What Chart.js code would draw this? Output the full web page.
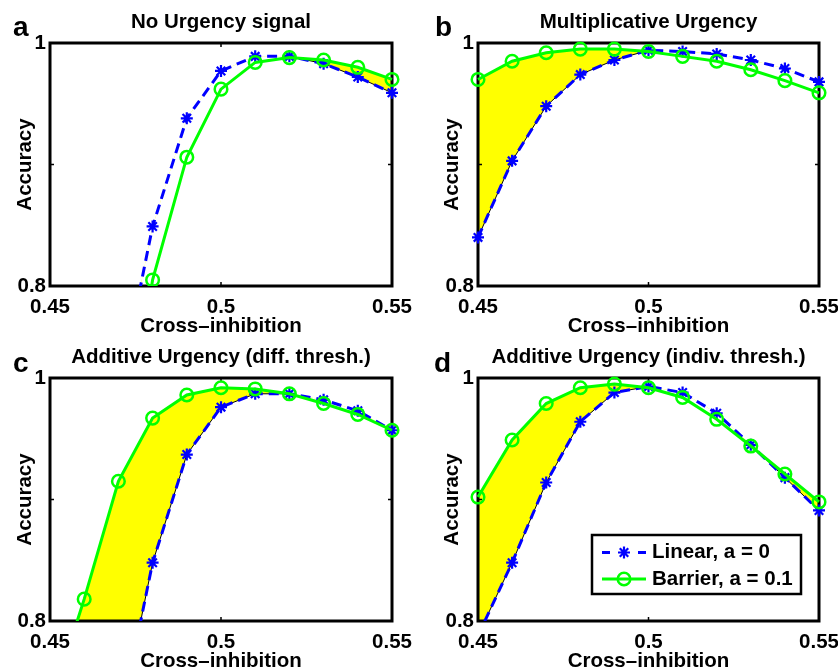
<!DOCTYPE html>
<html>
<head>
<meta charset="utf-8">
<script src="https://cdn.jsdelivr.net/npm/chart.js@4.4.1/dist/chart.umd.min.js"></script>
<style>
html,body{margin:0;padding:0;background:#fff;}
#wrap{position:relative;width:838px;height:670px;overflow:hidden;background:#fff;}
canvas{position:absolute;}
</style>
</head>
<body>
<div id="wrap">
<canvas id="c0" width="419" height="335" style="left:0;top:0"></canvas>
<canvas id="c1" width="419" height="335" style="left:419px;top:0"></canvas>
<canvas id="c2" width="419" height="335" style="left:0;top:335px"></canvas>
<canvas id="c3" width="419" height="335" style="left:419px;top:335px"></canvas>
</div>
<script>
// ---------------- DATA ----------------
const crossInhibition = [0.45, 0.46, 0.47, 0.48, 0.49, 0.50, 0.51, 0.52, 0.53, 0.54, 0.55];

const noUrgencyLinear   = [0.38, 0.55, 0.71, 0.849, 0.938, 0.977, 0.989, 0.989, 0.983, 0.972, 0.959];
const noUrgencyBarrier  = [0.30, 0.48, 0.63, 0.805, 0.906, 0.962, 0.984, 0.988, 0.986, 0.980, 0.970];

const multUrgencyLinear  = [0.840, 0.903, 0.948, 0.974, 0.986, 0.994, 0.993, 0.991, 0.986, 0.979, 0.968];
const multUrgencyBarrier = [0.970, 0.985, 0.992, 0.995, 0.995, 0.993, 0.989, 0.985, 0.978, 0.969, 0.959];

const addDiffLinear  = [0.38, 0.55, 0.71, 0.848, 0.937, 0.976, 0.987, 0.987, 0.982, 0.973, 0.957];
const addDiffBarrier = [0.73, 0.818, 0.915, 0.967, 0.986, 0.992, 0.991, 0.987, 0.979, 0.970, 0.957];

const addIndivLinear  = [0.788, 0.848, 0.914, 0.964, 0.988, 0.993, 0.988, 0.971, 0.945, 0.918, 0.891];
const addIndivBarrier = [0.902, 0.949, 0.979, 0.992, 0.995, 0.992, 0.984, 0.966, 0.944, 0.921, 0.898];

const panelTitles  = ['No Urgency signal', 'Multiplicative Urgency', 'Additive Urgency (diff. thresh.)', 'Additive Urgency (indiv. thresh.)'];
const panelLetters = ['a', 'b', 'c', 'd'];
const seriesNames  = ['Linear, a = 0', 'Barrier, a = 0.1'];

const xTickValues = [0.45, 0.5, 0.55];
const xTickLabels = ['0.45', '0.5', '0.55'];
const yTickValues = [0.8, 0.9, 1];
const yTickLabels = ['0.8', '', '1'];
const xAxisTitle = 'Cross–inhibition';
const yAxisTitle = 'Accuracy';

// ---------------- STYLE ----------------
const FONT = '"Liberation Sans", Arial, Helvetica, sans-serif';
const FS = 20.5;
const BLUE = '#0000ff';
const GREEN = '#00ff00';
const YELLOW = '#ffff00';

Chart.defaults.font.family = FONT;
Chart.defaults.font.weight = 'bold';
Chart.defaults.font.size = FS;
Chart.defaults.color = '#000';

const panels = [
  {id:'c0', linear: noUrgencyLinear,  barrier: noUrgencyBarrier,  area:{l:50, t:43, r:392, b:286}, yTitlePad:15, letterX:13, letterY:36, legend:false},
  {id:'c1', linear: multUrgencyLinear, barrier: multUrgencyBarrier, area:{l:59, t:43, r:400, b:286}, yTitlePad:23, letterX:16, letterY:36, legend:false},
  {id:'c2', linear: addDiffLinear,    barrier: addDiffBarrier,    area:{l:50, t:43, r:392, b:286}, yTitlePad:15, letterX:13, letterY:37, legend:false},
  {id:'c3', linear: addIndivLinear,   barrier: addIndivBarrier,   area:{l:59, t:43, r:400, b:286}, yTitlePad:23, letterX:15, letterY:37, legend:true}
];

const decorPlugin = {
  id: 'decor',
  beforeDatasetsDraw(chart, args, opts) {
    const {ctx, chartArea: a, scales} = chart;
    ctx.save();
    ctx.strokeStyle = '#000';
    ctx.lineWidth = 3;
    ctx.strokeRect(a.left, a.top, a.right - a.left, a.bottom - a.top);
    ctx.lineWidth = 1.5;
    ctx.beginPath();
    xTickValues.forEach(v => {
      const x = scales.x.getPixelForValue(v);
      ctx.moveTo(x, a.bottom); ctx.lineTo(x, a.bottom - 4);
      ctx.moveTo(x, a.top); ctx.lineTo(x, a.top + 4);
    });
    yTickValues.forEach(v => {
      const y = scales.y.getPixelForValue(v);
      ctx.moveTo(a.left, y); ctx.lineTo(a.left + 4, y);
      ctx.moveTo(a.right, y); ctx.lineTo(a.right - 4, y);
    });
    ctx.stroke();
    ctx.restore();
  },
  afterDraw(chart, args, opts) {
    const {ctx, chartArea: a} = chart;
    ctx.save();
    ctx.fillStyle = '#000';
    ctx.textBaseline = 'alphabetic';
    ctx.textAlign = 'center';
    ctx.font = 'bold ' + FS + 'px ' + FONT;
    ctx.fillText(opts.title, (a.left + a.right) / 2, 27.5);
    ctx.textAlign = 'left';
    ctx.font = 'bold 28px ' + FONT;
    ctx.fillText(opts.letter, opts.letterX, opts.letterY);
    if (opts.legend) {
      const bx = a.right - 227, by = a.bottom - 86, bw = 209, bh = 59;
      ctx.fillStyle = '#fff';
      ctx.fillRect(bx, by, bw, bh);
      ctx.strokeStyle = '#000';
      ctx.lineWidth = 2.5;
      ctx.strokeRect(bx, by, bw, bh);
      const rows = [chart.data.datasets[1], chart.data.datasets[2]];
      const rowY = [by + 17.5, by + 44];
      rows.forEach((ds, i) => {
        const y = rowY[i];
        const x0 = bx + 10, x1 = bx + 54, xm = (x0 + x1) / 2;
        ctx.strokeStyle = ds.borderColor;
        ctx.lineWidth = ds.borderWidth;
        ctx.beginPath();
        if (ds.borderDash && ds.borderDash.length) ctx.setLineDash([8, 28]);
        else ctx.setLineDash([]);
        ctx.moveTo(x0, y); ctx.lineTo(x1, y);
        ctx.stroke();
        ctx.setLineDash([]);
        ctx.lineWidth = ds.pointBorderWidth;
        ctx.strokeStyle = ds.pointBorderColor;
        ctx.fillStyle = ds.pointBackgroundColor;
        Chart.helpers.drawPoint(ctx, {pointStyle: ds.pointStyle, radius: ds.pointRadius, rotation: 0, borderWidth: ds.pointBorderWidth}, xm, y);
        ctx.fillStyle = '#000';
        ctx.font = 'bold ' + FS + 'px ' + FONT;
        ctx.textBaseline = 'middle';
        ctx.textAlign = 'left';
        ctx.fillText(ds.label, x1 + 6, y);
      });
    }
    ctx.restore();
  }
};

panels.forEach((p, idx) => {
  const canvas = document.getElementById(p.id);
  const W = canvas.width, H = canvas.height;
  const lin = crossInhibition.map((x, i) => ({x, y: p.linear[i]}));
  const bar = crossInhibition.map((x, i) => ({x, y: p.barrier[i]}));
  const clip = {left: 10, top: 10, right: 10, bottom: 0};
  const fillEdge = ctx => {
    const i0 = ctx.p0DataIndex, i1 = ctx.p1DataIndex;
    return (p.barrier[i0] > p.linear[i0] || p.barrier[i1] > p.linear[i1]) ? '#000' : 'rgba(0,0,0,0)';
  };
  new Chart(canvas, {
    type: 'line',
    data: {
      datasets: [
        {label: 'edge', data: lin, borderColor: '#000', borderWidth: 1, pointRadius: 0, tension: 0, fill: false, order: 2, clip,
         segment: {borderColor: fillEdge}},
        {label: seriesNames[0], data: lin, borderColor: BLUE, borderWidth: 3, borderDash: [10, 6], tension: 0, fill: false, order: 1, clip,
         pointStyle: 'star', pointRadius: 6, pointBorderWidth: 2.2, pointBorderColor: BLUE, pointBackgroundColor: BLUE},
        {label: seriesNames[1], data: bar, borderColor: GREEN, borderWidth: 3, tension: 0, order: 0, clip,
         fill: {target: 1, above: YELLOW, below: 'rgba(0,0,0,0)'},
         pointStyle: 'circle', pointRadius: 6.3, pointBorderWidth: 2.5, pointBorderColor: GREEN, pointBackgroundColor: 'rgba(0,0,0,0)'}
      ]
    },
    options: {
      responsive: false,
      animation: false,
      devicePixelRatio: 1,
      events: [],
      layout: {padding: {left: 0, top: p.area.t, right: W - p.area.r, bottom: 0}},
      plugins: {
        legend: {display: false},
        tooltip: {enabled: false},
        filler: {drawTime: 'beforeDatasetsDraw'},
        decor: {title: panelTitles[idx], letter: panelLetters[idx], letterX: p.letterX, letterY: p.letterY, legend: p.legend}
      },
      scales: {
        x: {
          type: 'linear', min: 0.45, max: 0.55,
          afterBuildTicks: s => { s.ticks = xTickValues.map(v => ({value: v})); },
          afterFit: s => { s.height = H - p.area.b; s.paddingLeft = 0; s.paddingRight = 0; },
          ticks: {callback: (v, i) => xTickLabels[i], padding: 9, maxRotation: 0, autoSkip: false, color: '#000'},
          grid: {display: false, drawTicks: false},
          border: {display: false},
          title: {display: true, text: xAxisTitle, color: '#000', font: {size: FS, weight: 'bold', lineHeight: 0.8}, padding: {top: 0, bottom: 0}}
        },
        y: {
          type: 'linear', min: 0.8, max: 1,
          afterBuildTicks: s => { s.ticks = yTickValues.map(v => ({value: v})); },
          afterFit: s => { s.width = p.area.l; s.paddingTop = 0; s.paddingBottom = 0; },
          ticks: {callback: (v, i) => yTickLabels[i], padding: 4, autoSkip: false, color: '#000'},
          grid: {display: false, drawTicks: false},
          border: {display: false},
          title: {display: true, text: yAxisTitle, color: '#000', font: {size: FS, weight: 'bold', lineHeight: 1}, padding: {top: p.yTitlePad, bottom: 0}}
        }
      }
    },
    plugins: [decorPlugin]
  });
});
</script>
</body>
</html>
